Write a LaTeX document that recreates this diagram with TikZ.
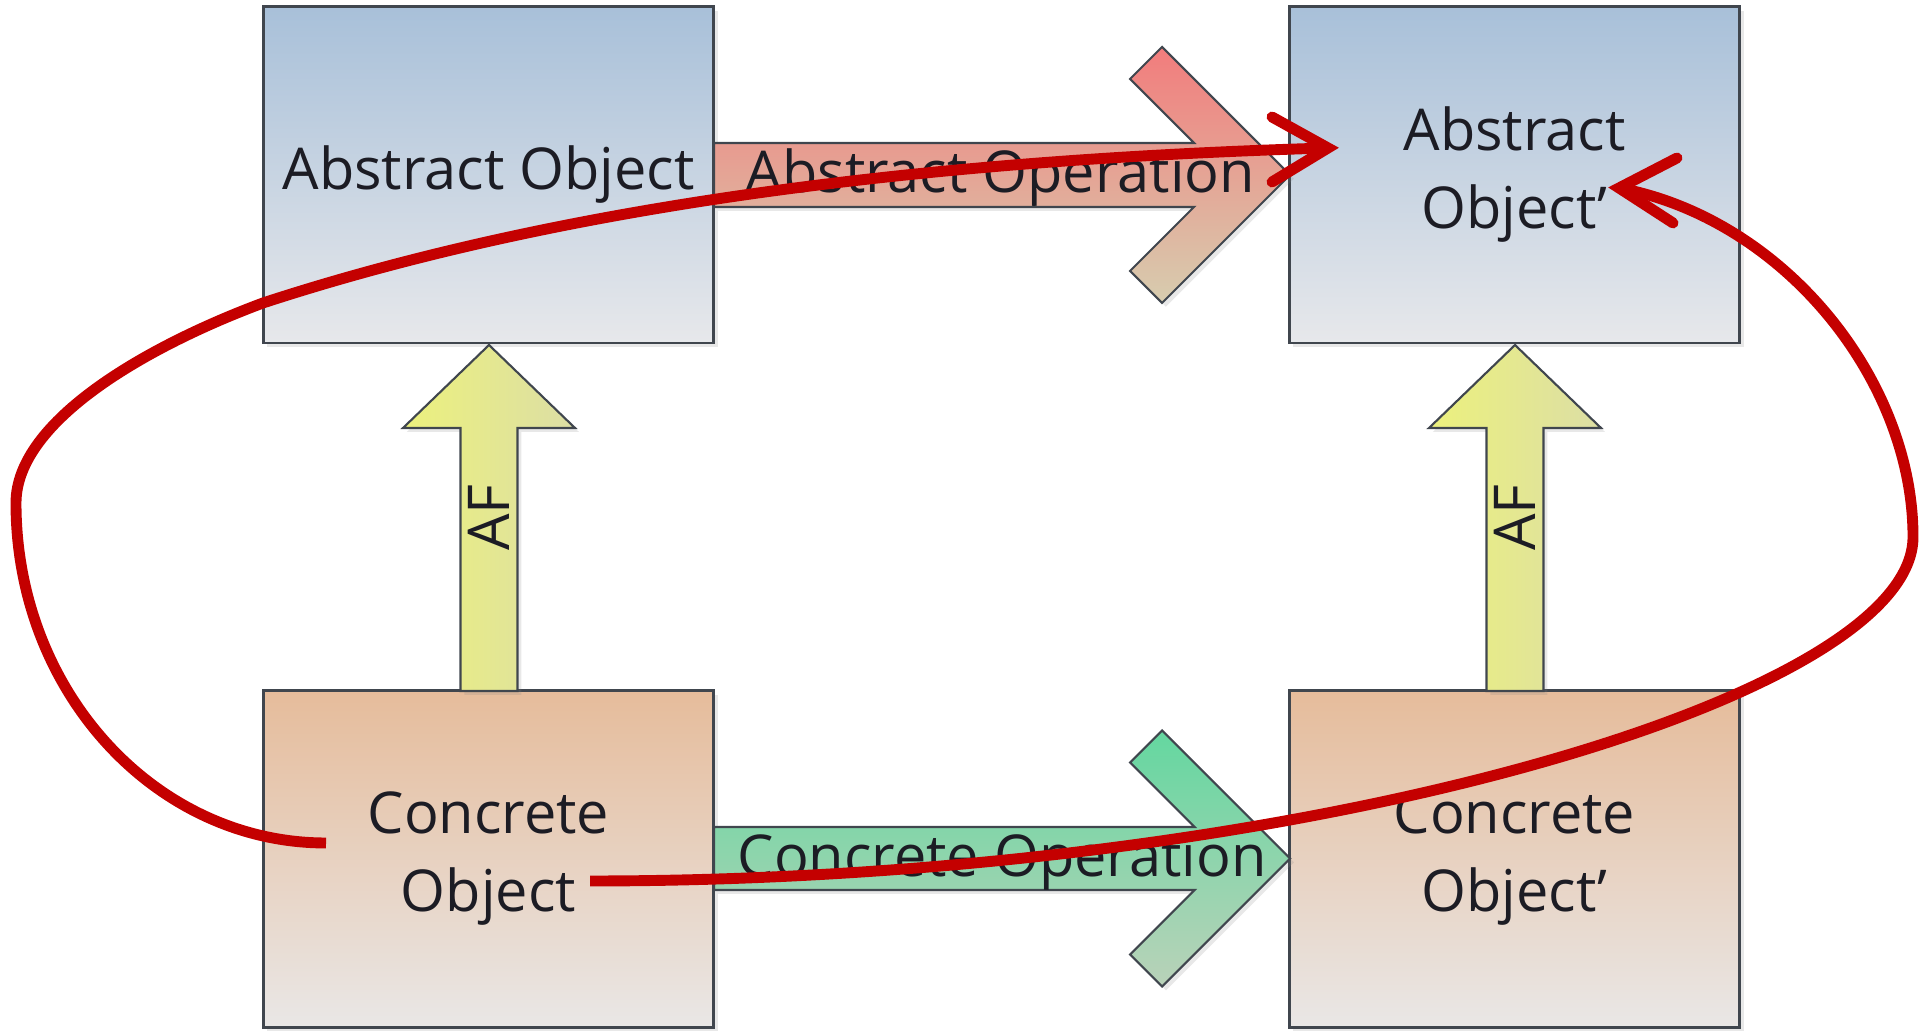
\documentclass[tikz,border=0pt]{standalone}
\usepackage{fontspec}
\setmainfont{Open Sans}
\usetikzlibrary{shadows}
\definecolor{blueT}{RGB}{168,192,217}
\definecolor{blueB}{RGB}{231,232,235}
\definecolor{orT}{RGB}{230,188,155}
\definecolor{orB}{RGB}{233,231,230}
\definecolor{boxline}{RGB}{64,70,78}
\definecolor{redT}{RGB}{242,124,124}
\definecolor{redB}{RGB}{215,205,175}
\definecolor{greenT}{RGB}{100,215,160}
\definecolor{greenB}{RGB}{185,210,185}
\definecolor{yelL}{RGB}{236,241,125}
\definecolor{yelR}{RGB}{220,222,165}
\definecolor{annred}{RGB}{196,0,0}
\definecolor{txt}{RGB}{28,28,36}
\begin{document}
\begin{tikzpicture}[x=0.01cm,y=0.01cm,
  softshadow/.style={drop shadow={opacity=0.18,shadow xshift=1.1pt,shadow yshift=-1.1pt}},
  box/.style={draw=boxline,line width=0.8pt,minimum width=4.5cm,minimum height=3.36cm,
    inner sep=0pt,outer sep=0pt,align=center,text=txt,
    font=\fontsize{16.4}{22.2}\selectfont,softshadow},
  absbox/.style={box,top color=blueT,bottom color=blueB},
  conbox/.style={box,top color=orT,bottom color=orB},
  blockarrow/.style={draw=boxline,line width=0.6pt,line join=miter,softshadow},
  lbl/.style={inner sep=0pt,text=txt,font=\fontsize{16.4}{22.2}\selectfont},
  annot/.style={draw=annred,line width=3.1pt,line cap=butt},
  annhead/.style={draw=annred,line width=3.1pt,line cap=round,line join=miter}]
\useasboundingbox (0,0) rectangle (1931,1031);

% boxes
\node[absbox] (ao)  at (488.5,856)  {Abstract Object};
\node[absbox] (aop) at (1514.5,856) {Abstract\\Object’};
\node[conbox] (co)  at (488.5,172)  {Concrete\\Object};
\node[conbox] (cop) at (1514.5,172) {Concrete\\Object’};

% abstract operation arrow
\draw[blockarrow,top color=redT,bottom color=redB]
  (714,888) -- (1194,888) -- (1130,952) -- (1162,984) -- (1290,856)
  -- (1162,728) -- (1130,760) -- (1194,824) -- (714,824) -- cycle;
\draw[draw=boxline,line width=0.6pt] (1034,824) -- (1034,838);
\node[lbl,anchor=base west] (aoplbl) at (745,838) {Abstract Operation};

% concrete operation arrow
\draw[blockarrow,top color=greenT,bottom color=greenB]
  (714,204) -- (1194.5,204) -- (1130,268.5) -- (1162,300.5) -- (1290,172.5)
  -- (1162,44.5) -- (1130,76.5) -- (1194.5,141) -- (714,141) -- cycle;
\draw[draw=boxline,line width=0.6pt] (1045,141) -- (1045,154);
\node[lbl,anchor=base west] (coplbl) at (737,154) {Concrete Operation};

% AF arrows
\draw[blockarrow,left color=yelL,right color=yelR]
  (460.5,340) -- (460.5,603) -- (403,603) -- (489,686) -- (575,603)
  -- (517.5,603) -- (517.5,340) -- cycle;
\node[lbl,rotate=90] (af1) at (489,513.5) {AF};
\draw[blockarrow,left color=yelL,right color=yelR]
  (1486.5,340) -- (1486.5,603) -- (1429,603) -- (1515,686) -- (1601,603)
  -- (1543.5,603) -- (1543.5,340) -- cycle;
\node[lbl,rotate=90] (af2) at (1515,513.5) {AF};

% red annotation curves
\coordinate (s1) at (326,188);
\coordinate (e1) at (1328,883);
\draw[annot] (s1) .. controls (155,188) and (16,340) .. (16,528)
  .. controls (16,611) and (150,686) .. (263,728)
  .. controls (596,837) and (986,873) .. (e1);
\draw[annhead] (1272,914) -- (e1) -- (1272,849);

\coordinate (s2) at (590,150);
\coordinate (e2) at (1619,843);
\draw[annot] (s2) .. controls (1290,150) and (1913,331) .. (1913,494)
  .. controls (1913,651) and (1784,812) .. (e2);
\draw[annhead] (1677,873) -- (e2) -- (1673,808);
\end{tikzpicture}
\end{document}
